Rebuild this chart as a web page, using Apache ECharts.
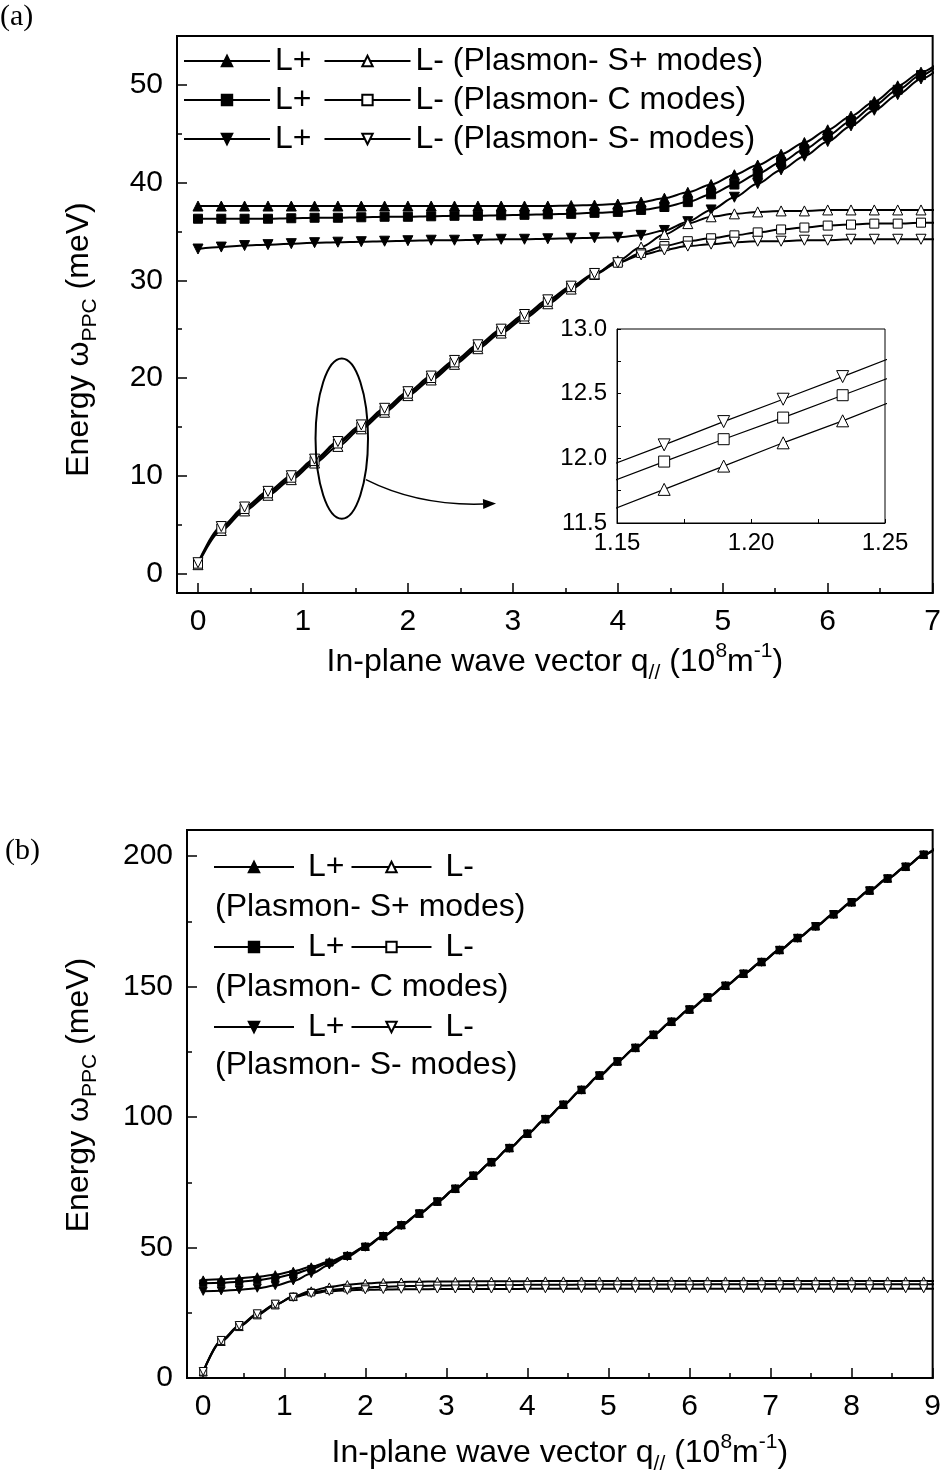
<!DOCTYPE html>
<html>
<head>
<meta charset="utf-8">
<script src="https://cdn.jsdelivr.net/npm/echarts@6/dist/echarts.min.js"></script>
<style>
html, body { margin: 0; padding: 0; background: #fff; }
#chart { width: 944px; height: 1481px; }
</style>
</head>
<body>
<div id="chart"></div>
<script>
// ---- data, panel (a): q in 10^8 m^-1, energy in meV ----
const qA = [0, 0.222, 0.444, 0.667, 0.889, 1.111, 1.333, 1.556, 1.778, 2.0, 2.222, 2.444, 2.667, 2.889, 3.111, 3.333,
    3.556, 3.778, 4.0, 4.222, 4.444, 4.667, 4.889, 5.111, 5.333, 5.556, 5.778, 6.0, 6.222, 6.444, 6.667, 6.889, 7.111];
// L+ branches (filled markers)
const aSpPlus = [37.6, 37.6, 37.6, 37.6, 37.6, 37.6, 37.6, 37.6, 37.6, 37.6, 37.6, 37.6, 37.6, 37.6, 37.6, 37.6,
    37.65, 37.7, 37.8, 38.0, 38.4, 39.0, 39.8, 40.8, 41.8, 42.9, 44.1, 45.4, 46.8, 48.3, 49.9, 51.3, 52.7];
const aCPlus = [36.3, 36.3, 36.3, 36.3, 36.35, 36.4, 36.4, 36.45, 36.5, 36.5, 36.55, 36.6, 36.6, 36.65, 36.7, 36.75,
    36.8, 36.9, 37.0, 37.2, 37.5, 38.0, 38.8, 39.8, 40.9, 42.1, 43.4, 44.8, 46.3, 47.9, 49.5, 51.0, 52.5];
const aSmPlus = [33.2, 33.4, 33.55, 33.65, 33.75, 33.85, 33.9, 33.95, 34.0, 34.05, 34.1, 34.1, 34.15, 34.2, 34.2, 34.25,
    34.3, 34.35, 34.4, 34.6, 35.1, 36.0, 37.2, 38.5, 39.9, 41.3, 42.7, 44.2, 45.8, 47.4, 49.0, 50.6, 52.2];
// L- branches (open markers)
const aSpMinus = [0.9, 4.4, 6.4, 8.0, 9.6, 11.3, 13.0, 14.8, 16.5, 18.2, 19.8, 21.4, 23.0, 24.6, 26.1, 27.6,
    29.1, 30.6, 32.0, 33.4, 34.7, 35.8, 36.5, 36.8, 37.0, 37.1, 37.1, 37.2, 37.2, 37.2, 37.2, 37.2, 37.2];
const aCMinus = [1.0, 4.6, 6.6, 8.2, 9.8, 11.5, 13.3, 15.0, 16.7, 18.4, 20.0, 21.6, 23.2, 24.8, 26.3, 27.8,
    29.3, 30.6, 31.8, 32.8, 33.5, 34.0, 34.3, 34.6, 34.9, 35.2, 35.4, 35.6, 35.7, 35.8, 35.8, 35.9, 35.9];
const aSmMinus = [1.1, 4.8, 6.8, 8.4, 10.0, 11.7, 13.5, 15.2, 16.9, 18.6, 20.2, 21.8, 23.4, 25.0, 26.5, 28.0,
    29.4, 30.7, 31.8, 32.6, 33.1, 33.5, 33.7, 33.9, 34.0, 34.0, 34.1, 34.1, 34.2, 34.2, 34.2, 34.2, 34.2];

// ---- inset of (a): zoom of the L- branches ----
const insetQ = [1.1454, 1.1676, 1.1898, 1.2120, 1.2342, 1.2564];
const insetSp = [11.58, 11.76, 11.94, 12.12, 12.29, 12.47];
const insetC = [11.80, 11.975, 12.148, 12.315, 12.488, 12.66];
const insetSm = [11.93, 12.104, 12.284, 12.457, 12.632, 12.81];

// ---- data, panel (b) ----
const qB = [0, 0.222, 0.444, 0.667, 0.889, 1.111, 1.333, 1.556, 1.778, 2.0, 2.222, 2.444, 2.667, 2.889, 3.111, 3.333,
    3.556, 3.778, 4.0, 4.222, 4.444, 4.667, 4.889, 5.111, 5.333, 5.556, 5.778, 6.0, 6.222, 6.444, 6.667, 6.889,
    7.111, 7.333, 7.556, 7.778, 8.0, 8.222, 8.444, 8.667, 8.889, 9.111];
const bSpPlus = [37.6, 37.8, 38.2, 38.8, 39.6, 40.9, 42.6, 44.6, 47.0, 50.4, 54.5, 58.7, 63.1, 67.7, 72.6, 77.6,
    82.8, 88.2, 93.7, 99.3, 104.8, 110.5, 116.0, 121.4, 126.6, 131.6, 136.6, 141.3, 145.9, 150.4, 155.0, 159.5,
    164.1, 168.7, 173.2, 177.8, 182.4, 186.9, 191.5, 196.0, 200.6, 205.1];
const bCPlus = [36.3, 36.5, 36.9, 37.5, 38.4, 39.8, 41.8, 44.2, 46.8, 50.3, 54.4, 58.6, 63.0, 67.6, 72.5, 77.5,
    82.7, 88.1, 93.6, 99.2, 104.7, 110.4, 115.9, 121.3, 126.5, 131.5, 136.5, 141.2, 145.8, 150.3, 154.9, 159.4,
    164.0, 168.6, 173.1, 177.7, 182.3, 186.8, 191.4, 195.9, 200.5, 205.0];
const bSmPlus = [33.2, 33.4, 33.8, 34.4, 35.4, 37.2, 40.0, 43.3, 46.5, 50.1, 54.2, 58.4, 62.9, 67.5, 72.4, 77.4,
    82.6, 88.0, 93.5, 99.1, 104.6, 110.3, 115.8, 121.2, 126.4, 131.4, 136.4, 141.1, 145.7, 150.2, 154.8, 159.3,
    163.9, 168.5, 173.0, 177.6, 182.2, 186.7, 191.3, 195.8, 200.4, 204.9];
const bSpMinus = [2.3, 14.0, 19.7, 24.2, 28.0, 31.2, 33.4, 34.9, 35.8, 36.3, 36.6, 36.8, 36.9, 37.0, 37.0, 37.1,
    37.1, 37.1, 37.1, 37.2, 37.2, 37.2, 37.2, 37.2, 37.2, 37.2, 37.2, 37.2, 37.2, 37.2, 37.2, 37.2,
    37.2, 37.2, 37.2, 37.2, 37.2, 37.2, 37.2, 37.2, 37.2, 37.2];
const bCMinus = [2.4, 14.2, 19.9, 24.4, 28.2, 31.2, 32.8, 33.7, 34.3, 34.7, 35.0, 35.2, 35.3, 35.4, 35.5, 35.5,
    35.6, 35.6, 35.7, 35.7, 35.7, 35.8, 35.8, 35.8, 35.8, 35.8, 35.8, 35.8, 35.9, 35.9, 35.9, 35.9,
    35.9, 35.9, 35.9, 35.9, 35.9, 35.9, 35.9, 35.9, 35.9, 35.9];
const bSmMinus = [2.5, 14.4, 20.1, 24.6, 28.3, 30.9, 32.4, 33.2, 33.6, 33.8, 33.9, 34.0, 34.0, 34.1, 34.1, 34.1,
    34.1, 34.1, 34.2, 34.2, 34.2, 34.2, 34.2, 34.2, 34.2, 34.2, 34.2, 34.2, 34.2, 34.2, 34.2, 34.2,
    34.2, 34.2, 34.2, 34.2, 34.2, 34.2, 34.2, 34.2, 34.2, 34.2];

// ellipse + arrow annotation in (a), in data units
const ringCenter = [1.37, 13.8];
const ringRadius = [0.25, 8.2];
const arrowFrom = [1.6, 9.6];
const arrowCtrl = [2.1, 6.9];
const arrowTo = [2.84, 7.15];

const FONT = 'Arial, "Liberation Sans", sans-serif';
const SERIF = '"Times New Roman", "Liberation Serif", serif';

const legendText = {
    'a+1': 'L+', 'a-1': 'L- (Plasmon- S+ modes)',
    'a+2': 'L+', 'a-2': 'L- (Plasmon- C modes)',
    'a+3': 'L+', 'a-3': 'L- (Plasmon- S- modes)',
    'b+1': 'L+', 'b-1': 'L-',
    'b+2': 'L+', 'b-2': 'L-',
    'b+3': 'L+', 'b-3': 'L-'
};

function pairs(xs, ys) {
    return xs.map(function (x, i) { return [x, ys[i]]; });
}

// 一条曲线
function curve(name, axis, xs, ys, mark, filled, size, width, smooth) {
    return {
        name: name,
        type: 'line',
        xAxisIndex: axis,
        yAxisIndex: axis,
        data: pairs(xs, ys),
        smooth: smooth,
        smoothMonotone: 'x',
        clip: true,
        symbol: mark === 'sq' ? 'rect' : 'triangle',
        symbolRotate: mark === 'down' ? 180 : 0,
        symbolSize: size,
        showAllSymbol: true,
        itemStyle: { color: filled ? '#000' : '#fff', borderColor: '#000', borderWidth: 1 },
        lineStyle: { color: '#000', width: width },
        emphasis: { disabled: true },
        z: filled ? 3 : 4
    };
}

function axisBase(extra) {
    const base = {
        type: 'value',
        axisLine: { show: true, onZero: false, lineStyle: { color: '#000', width: 2 } },
        axisTick: { show: true, inside: true, length: 10, lineStyle: { color: '#000', width: 1.5 } },
        minorTick: { show: true, splitNumber: 2, length: 5, lineStyle: { color: '#000', width: 1.5 } },
        splitLine: { show: false },
        axisLabel: { color: '#000', fontSize: 30, fontFamily: FONT, margin: 14 }
    };
    return Object.assign(base, extra);
}

const titleRich = {
    t: { fontSize: 32, fontFamily: FONT, color: '#000' },
    s: { fontSize: 21, fontFamily: FONT, color: '#000', padding: [22, 0, 0, 0] },
    p: { fontSize: 21, fontFamily: FONT, color: '#000', padding: [0, 0, 22, 0] }
};
const xTitle = '{t|In-plane wave vector q}{s|//}{t| (10}{p|8}{t|m}{p|-1}{t|)}';
const yTitle = '{t|Energy ω}{s|PPC}{t| (meV)}';

function legendRow(left, top, width, gap, names, pad) {
    return {
        left: left, top: top, padding: 0, orient: 'horizontal',
        itemWidth: width, itemHeight: 13, itemGap: gap,
        selectedMode: false, data: names,
        formatter: function (n) { return legendText[n]; },
        textStyle: { fontSize: 32, fontFamily: FONT, color: '#000', padding: [0, 0, 0, pad] }
    };
}

const chart = echarts.init(document.getElementById('chart'));

const option = {
    backgroundColor: '#fff',
    animation: false,
    grid: [
        { left: 177, top: 36, width: 757, height: 557, show: true, borderColor: '#000', borderWidth: 2 },
        { left: 617, top: 329, width: 268, height: 194, show: true, borderColor: '#000', borderWidth: 1, backgroundColor: '#fff' },
        { left: 187, top: 830, width: 747, height: 548, show: true, borderColor: '#000', borderWidth: 2 }
    ],
    xAxis: [
        axisBase({
            gridIndex: 0, min: -0.2, max: 7, minInterval: 1, maxInterval: 1, splitNumber: 7,
            axisLabel: { color: '#000', fontSize: 30, fontFamily: FONT, margin: 14, showMinLabel: false },
            name: xTitle, nameLocation: 'middle', nameGap: 48,
            nameTextStyle: { rich: titleRich }
        }),
        axisBase({
            gridIndex: 1, min: 1.15, max: 1.25, minInterval: 0.05, maxInterval: 0.05, splitNumber: 2,
            axisLine: { show: true, onZero: false, lineStyle: { color: '#000', width: 1 } },
            axisTick: { show: true, inside: true, length: 4, lineStyle: { color: '#000', width: 1 } },
            minorTick: { show: true, splitNumber: 2, length: 4, lineStyle: { color: '#000', width: 1 } },
            axisLabel: { color: '#000', fontSize: 24, fontFamily: FONT, margin: 8,
                formatter: function (v) { return v.toFixed(2); } }
        }),
        axisBase({
            gridIndex: 2, min: -0.2, max: 9, minInterval: 1, maxInterval: 1, splitNumber: 9,
            axisLabel: { color: '#000', fontSize: 30, fontFamily: FONT, margin: 14, showMinLabel: false },
            name: xTitle, nameLocation: 'middle', nameGap: 54,
            nameTextStyle: { rich: titleRich }
        })
    ],
    yAxis: [
        axisBase({
            gridIndex: 0, min: -2, max: 55, minInterval: 10, maxInterval: 10, splitNumber: 6,
            axisLabel: { color: '#000', fontSize: 30, fontFamily: FONT, margin: 14, showMinLabel: false, showMaxLabel: false },
            name: yTitle, nameLocation: 'middle', nameGap: 76, nameRotate: 90,
            nameTextStyle: { rich: titleRich, padding: [0, 50, 0, 0] }
        }),
        axisBase({
            gridIndex: 1, min: 11.5, max: 13.0, minInterval: 0.5, maxInterval: 0.5, splitNumber: 3,
            axisLine: { show: true, onZero: false, lineStyle: { color: '#000', width: 1 } },
            axisTick: { show: true, inside: true, length: 4, lineStyle: { color: '#000', width: 1 } },
            minorTick: { show: true, splitNumber: 2, length: 4, lineStyle: { color: '#000', width: 1 } },
            axisLabel: { color: '#000', fontSize: 24, fontFamily: FONT, margin: 10,
                formatter: function (v) { return v.toFixed(1); } }
        }),
        axisBase({
            gridIndex: 2, min: 0, max: 210, minInterval: 50, maxInterval: 50, splitNumber: 4,
            axisLabel: { color: '#000', fontSize: 30, fontFamily: FONT, margin: 14, showMaxLabel: false },
            name: yTitle, nameLocation: 'middle', nameGap: 86, nameRotate: 90,
            nameTextStyle: { rich: titleRich, padding: [0, 0, 0, 18] }
        })
    ],
    legend: [
        legendRow(183, 45, 86, 12, ['a+1', 'a-1'], 0),
        legendRow(183, 84, 86, 12, ['a+2', 'a-2'], 0),
        legendRow(183, 123, 86, 12, ['a+3', 'a-3'], 0),
        legendRow(213, 851, 80, 6, ['b+1', 'b-1'], 9),
        legendRow(213, 931, 80, 6, ['b+2', 'b-2'], 9),
        legendRow(213, 1011, 80, 6, ['b+3', 'b-3'], 9)
    ],
    series: [
        curve('a+1', 0, qA, aSpPlus, 'up', true, 10, 2, 0.3),
        curve('a+2', 0, qA, aCPlus, 'sq', true, 9, 2, 0.3),
        curve('a+3', 0, qA, aSmPlus, 'down', true, 10, 2, 0.3),
        curve('a-1', 0, qA, aSpMinus, 'up', false, 10, 2, 0.3),
        curve('a-2', 0, qA, aCMinus, 'sq', false, 9, 2, 0.3),
        curve('a-3', 0, qA, aSmMinus, 'down', false, 10, 2, 0.3),
        curve('inset-1', 1, insetQ, insetSp, 'up', false, 12, 1.2, false),
        curve('inset-2', 1, insetQ, insetC, 'sq', false, 11, 1.2, false),
        curve('inset-3', 1, insetQ, insetSm, 'down', false, 12, 1.2, false),
        curve('b+1', 2, qB, bSpPlus, 'up', true, 8, 2, 0.3),
        curve('b+2', 2, qB, bCPlus, 'sq', true, 7, 2, 0.3),
        curve('b+3', 2, qB, bSmPlus, 'down', true, 8, 2, 0.3),
        curve('b-1', 2, qB, bSpMinus, 'up', false, 8, 2, 0.3),
        curve('b-2', 2, qB, bCMinus, 'sq', false, 7, 2, 0.3),
        curve('b-3', 2, qB, bSmMinus, 'down', false, 8, 2, 0.3)
    ],
    graphic: [
        { type: 'text', left: 0, top: 2, style: { text: '(a)', font: '30px ' + SERIF, fill: '#000' } },
        { type: 'text', left: 5, top: 836, style: { text: '(b)', font: '30px ' + SERIF, fill: '#000' } },
        { type: 'text', left: 215, top: 891, style: { text: '(Plasmon- S+ modes)', font: '32px ' + FONT, fill: '#000' } },
        { type: 'text', left: 215, top: 971, style: { text: '(Plasmon- C modes)', font: '32px ' + FONT, fill: '#000' } },
        { type: 'text', left: 215, top: 1049, style: { text: '(Plasmon- S- modes)', font: '32px ' + FONT, fill: '#000' } }
    ]
};

chart.setOption(option);

// 椭圆和箭头: 用数据坐标换算成像素
function addAnnotation() {
    const c = chart.convertToPixel({ gridIndex: 0 }, ringCenter);
    const e = chart.convertToPixel({ gridIndex: 0 }, [ringCenter[0] + ringRadius[0], ringCenter[1] - ringRadius[1]]);
    const p0 = chart.convertToPixel({ gridIndex: 0 }, arrowFrom);
    const p1 = chart.convertToPixel({ gridIndex: 0 }, arrowCtrl);
    const p2 = chart.convertToPixel({ gridIndex: 0 }, arrowTo);
    const dx = p2[0] - p1[0], dy = p2[1] - p1[1];
    const len = Math.sqrt(dx * dx + dy * dy);
    const ux = dx / len, uy = dy / len;
    const headL = 13, headW = 5;
    const bx = p2[0] - ux * headL, by = p2[1] - uy * headL;
    chart.setOption({
        graphic: option.graphic.concat([
            {
                type: 'ellipse', z: 10,
                shape: { cx: c[0], cy: c[1], rx: e[0] - c[0], ry: e[1] - c[1] },
                style: { fill: 'none', stroke: '#000', lineWidth: 2 }
            },
            {
                type: 'bezierCurve', z: 10,
                shape: { x1: p0[0], y1: p0[1], cpx1: p1[0], cpy1: p1[1], x2: bx, y2: by },
                style: { fill: 'none', stroke: '#000', lineWidth: 1.5 }
            },
            {
                type: 'polygon', z: 10,
                shape: { points: [[p2[0], p2[1]], [bx - uy * headW, by + ux * headW], [bx + uy * headW, by - ux * headW]] },
                style: { fill: '#000' }
            }
        ])
    });
}
addAnnotation();
</script>
</body>
</html>
